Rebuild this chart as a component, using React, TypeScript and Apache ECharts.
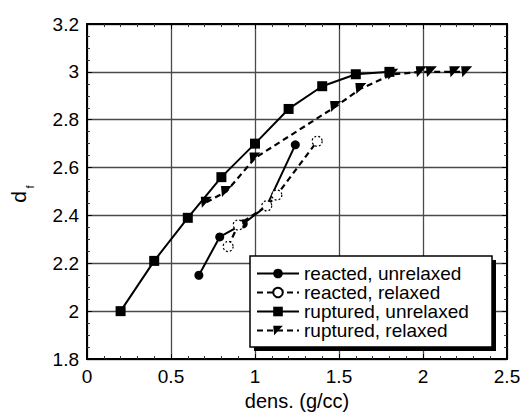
import React, { useEffect, useRef } from "react";
import * as echarts from "echarts";

const reactedUnrelaxedX = [0.666, 0.79, 0.93, 1.07, 1.24];
const reactedUnrelaxedY = [2.15, 2.31, 2.365, 2.44, 2.695];
const reactedRelaxedX = [0.84, 0.9, 1.07, 1.13, 1.37];
const reactedRelaxedY = [2.27, 2.36, 2.44, 2.485, 2.71];
const rupturedUnrelaxedX = [0.2, 0.4, 0.6, 0.8, 1.0, 1.2, 1.4, 1.6, 1.8];
const rupturedUnrelaxedY = [2.0, 2.21, 2.39, 2.56, 2.7, 2.845, 2.94, 2.99, 3.0];
const rupturedRelaxedX = [0.71, 0.83, 1.0, 1.48, 1.63, 1.82, 1.99, 2.05, 2.19, 2.26];
const rupturedRelaxedY = [2.455, 2.5, 2.64, 2.855, 2.93, 2.99, 3.0, 3.0, 3.0, 3.0];

const seriesNames = [
  "reacted, unrelaxed",
  "reacted, relaxed",
  "ruptured, unrelaxed",
  "ruptured, relaxed",
];
const xAxisTitle = "dens. (g/cc)";
const yAxisTitleMain = "d";
const yAxisTitleSub = "f";

const zip = (xs: number[], ys: number[]) => xs.map((x, i) => [x, ys[i]]);

const FONT = "Liberation Sans";

export default function App() {
  const ref = useRef<HTMLDivElement>(null);
  useEffect(() => {
    if (!ref.current) return;
    const chart = echarts.init(ref.current, null, { renderer: "svg" });
    const axisCommon = {
      axisLine: { show: true, onZero: false, lineStyle: { color: "#000", width: 2 } },
      axisTick: { show: true, inside: true, length: 5, lineStyle: { color: "#000", width: 1 } },
      minorTick: { show: true, length: 3, lineStyle: { color: "#333", width: 1 } },
    };
    chart.setOption({
      animation: false,
      backgroundColor: "#fff",
      textStyle: { fontFamily: FONT },
      grid: { left: 87, right: 17, top: 24, bottom: 55, containLabel: false },
      graphic: [
        { type: "rect", z: 1, shape: { x: 254, y: 260, width: 242, height: 91 }, style: { fill: "#000" } },
        {
          type: "rect",
          z: 2,
          shape: { x: 250, y: 256, width: 242, height: 91 },
          style: { fill: "#fff", stroke: "#000", lineWidth: 1.5 },
        },
        {
          type: "text",
          z: 2,
          x: 18,
          y: 197,
          rotation: Math.PI / 2,
          style: {
            text: yAxisTitleMain,
            fontSize: 21,
            fontFamily: FONT,
            fill: "#000",
            align: "center",
            verticalAlign: "middle",
          },
        },
        {
          type: "text",
          z: 2,
          x: 30,
          y: 187,
          rotation: Math.PI / 2,
          style: {
            text: yAxisTitleSub,
            fontSize: 11,
            fontFamily: FONT,
            fill: "#000",
            align: "center",
            verticalAlign: "middle",
          },
        },
      ],
      xAxis: [
        {
          type: "value",
          min: 0,
          max: 2.5,
          interval: 0.5,
          position: "bottom",
          name: xAxisTitle,
          nameLocation: "middle",
          nameGap: 32,
          nameTextStyle: { fontSize: 20, color: "#000", fontFamily: FONT },
          axisLabel: { fontSize: 19, color: "#000", margin: 8, fontFamily: FONT },
          ...axisCommon,
          minorTick: { ...axisCommon.minorTick, splitNumber: 5 },
          splitLine: { show: true, lineStyle: { color: "#4a4a4a", width: 1.3 } },
        },
        {
          type: "value",
          min: 0,
          max: 2.5,
          interval: 0.5,
          position: "top",
          axisLabel: { show: false },
          ...axisCommon,
          minorTick: { ...axisCommon.minorTick, splitNumber: 5 },
          splitLine: { show: false },
        },
      ],
      yAxis: [
        {
          type: "value",
          min: 1.8,
          max: 3.2,
          interval: 0.2,
          position: "left",
          axisLabel: { fontSize: 19, color: "#000", margin: 8, fontFamily: FONT },
          ...axisCommon,
          minorTick: { ...axisCommon.minorTick, splitNumber: 4 },
          splitLine: { show: true, lineStyle: { color: "#4a4a4a", width: 1.3 } },
        },
        {
          type: "value",
          min: 1.8,
          max: 3.2,
          interval: 0.2,
          position: "right",
          axisLabel: { show: false },
          ...axisCommon,
          minorTick: { ...axisCommon.minorTick, splitNumber: 4 },
          splitLine: { show: false },
        },
      ],
      legend: {
        left: 256,
        top: 264,
        orient: "vertical",
        itemWidth: 42,
        itemHeight: 12,
        itemGap: 0,
        padding: 0,
        z: 5,
        textStyle: { fontSize: 19, lineHeight: 19, color: "#000", fontFamily: FONT },
        data: seriesNames,
      },
      series: [
        {
          name: seriesNames[0],
          type: "line",
          data: zip(reactedUnrelaxedX, reactedUnrelaxedY),
          symbol: "circle",
          symbolSize: 9,
          itemStyle: { color: "#000" },
          lineStyle: { color: "#000", width: 2, type: "solid" },
          z: 3,
        },
        {
          name: seriesNames[1],
          type: "line",
          data: zip(reactedRelaxedX, reactedRelaxedY),
          symbol: "circle",
          symbolSize: 10,
          itemStyle: { color: "#fff", borderColor: "#000", borderWidth: 1.2, borderType: [2, 2] },
          lineStyle: { color: "#000", width: 2.2, type: [6, 4] },
          z: 4,
        },
        {
          name: seriesNames[2],
          type: "line",
          data: zip(rupturedUnrelaxedX, rupturedUnrelaxedY),
          symbol: "rect",
          symbolSize: 10,
          itemStyle: { color: "#000" },
          lineStyle: { color: "#000", width: 2, type: "solid" },
          z: 5,
        },
        {
          name: seriesNames[3],
          type: "line",
          data: zip(rupturedRelaxedX, rupturedRelaxedY),
          symbol: "path://M0,0L10,0L1,10Z",
          symbolSize: 11,
          itemStyle: { color: "#000" },
          lineStyle: { color: "#000", width: 2.2, type: [6, 4] },
          z: 6,
        },
      ],
    });
    return () => chart.dispose();
  }, []);
  return <div ref={ref} style={{ width: 524, height: 416, position: "absolute", left: 0, top: 0 }} />;
}
